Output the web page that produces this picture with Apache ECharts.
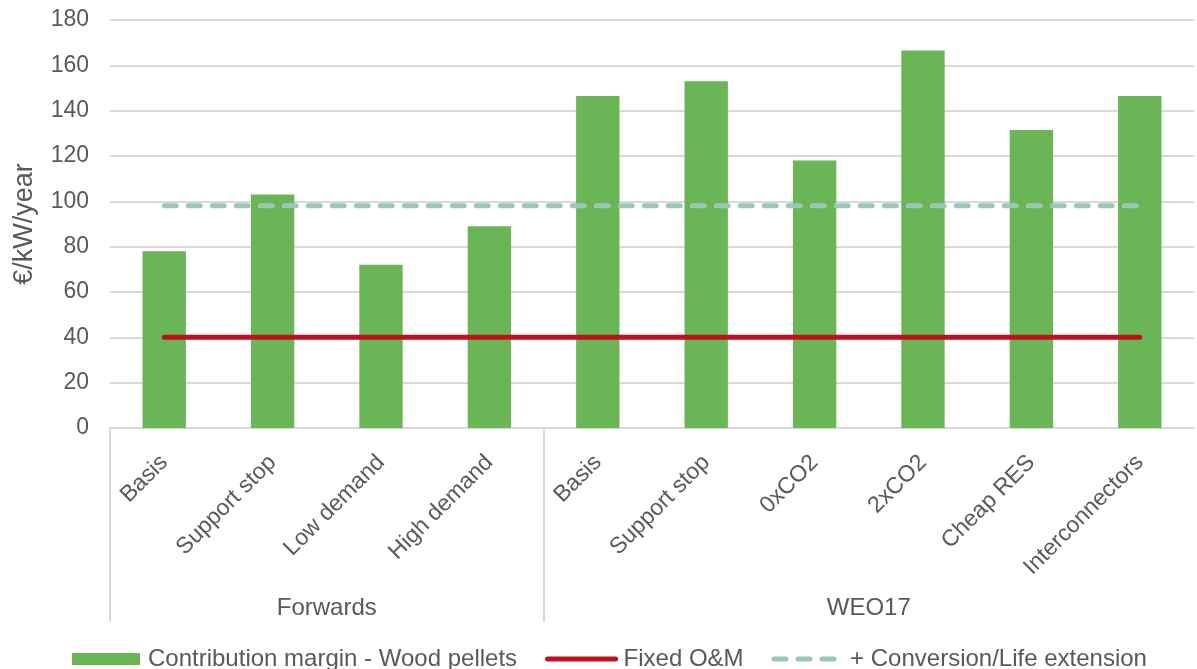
<!DOCTYPE html>
<html>
<head>
<meta charset="utf-8">
<script src="https://cdn.jsdelivr.net/npm/echarts@6/dist/echarts.min.js"></script>
<style>html,body{margin:0;padding:0;background:#fff;}#c{width:1197px;height:669px;}</style>
</head>
<body>
<div id="c"></div>
<script>
const categories = ['Basis','Support stop','Low demand','High demand','Basis','Support stop','0xCO2','2xCO2','Cheap RES','Interconnectors'];
const groupNames = ['Forwards','WEO17'];
const groupCenters = [2, 7];        // boundary index at group middle
const groupSeparators = [0, 4];     // boundary index of group separators
const contributionMargin = [78, 103, 72, 89, 146.5, 153, 118, 166.5, 131.5, 146.5];
const fixedOM = [40, 40, 40, 40, 40, 40, 40, 40, 40, 40];
const conversionLife = [98, 98, 98, 98, 98, 98, 98, 98, 98, 98];
const yTicks = {min: 0, max: 180, interval: 20};

const boundaries = [];
for (let i = 0; i <= categories.length; i++) boundaries.push(String(i));

const txt = '#595959';
const font = 'Liberation Sans, Arial, sans-serif';
const red = '#C00F1E';
const teal = '#9CC8BA';
const chart = echarts.init(document.getElementById('c'));
chart.setOption({
  animation: false,
  textStyle: {fontFamily: font},
  grid: {left: 110, right: 0, top: 20, bottom: 241},
  legend: {
    bottom: -2, left: 72, padding: 0,
    itemWidth: 68, itemHeight: 12, itemGap: 28,
    textStyle: {fontSize: 24, color: txt, fontFamily: font, padding: [0, 0, 0, 3]},
    data: [
      {name: 'Contribution margin - Wood pellets', icon: 'rect'},
      {name: 'Fixed O&M', itemStyle: {opacity: 0}, lineStyle: {width: 5, color: red, cap: 'round'}},
      {name: '+ Conversion/Life extension', itemStyle: {opacity: 0}, lineStyle: {width: 5, color: teal, type: [12, 12], cap: 'round'}}
    ]
  },
  xAxis: [
    {
      type: 'category', data: categories, position: 'bottom',
      axisLine: {show: true, lineStyle: {color: '#D9D9D9', width: 2}},
      axisTick: {show: false},
      axisLabel: {rotate: 45, interval: 0, fontSize: 23, color: txt, margin: 31}
    },
    {
      type: 'category', data: boundaries, position: 'bottom', boundaryGap: false,
      axisLine: {show: false},
      axisTick: {show: true, length: 194, lineStyle: {color: '#D9D9D9', width: 2},
        interval: function (idx) { return groupSeparators.indexOf(idx) >= 0; }},
      axisLabel: {interval: 0, fontSize: 24, color: txt, margin: 168,
        formatter: function (v) { const k = groupCenters.indexOf(Number(v)); return k >= 0 ? groupNames[k] : ''; }}
    }
  ],
  yAxis: {
    type: 'value', min: yTicks.min, max: yTicks.max, interval: yTicks.interval,
    name: '€/kW/year', nameLocation: 'middle', nameGap: 72,
    nameTextStyle: {fontSize: 27, color: txt},
    axisLine: {show: false}, axisTick: {show: false},
    axisLabel: {fontSize: 23, color: txt, margin: 21},
    splitLine: {lineStyle: {color: '#D9D9D9', width: 2}}
  },
  series: [
    {
      name: 'Contribution margin - Wood pellets', type: 'bar', data: contributionMargin,
      barWidth: '40%', itemStyle: {color: '#6AB556'}
    },
    {
      name: 'Fixed O&M', type: 'line', data: fixedOM, symbol: 'none',
      lineStyle: {color: red, width: 5, cap: 'round'}, itemStyle: {color: red}
    },
    {
      name: '+ Conversion/Life extension', type: 'line', data: conversionLife, symbol: 'none',
      lineStyle: {color: teal, width: 5, type: [12, 12], cap: 'round'}, itemStyle: {color: teal}
    }
  ]
});
</script>
</body>
</html>
